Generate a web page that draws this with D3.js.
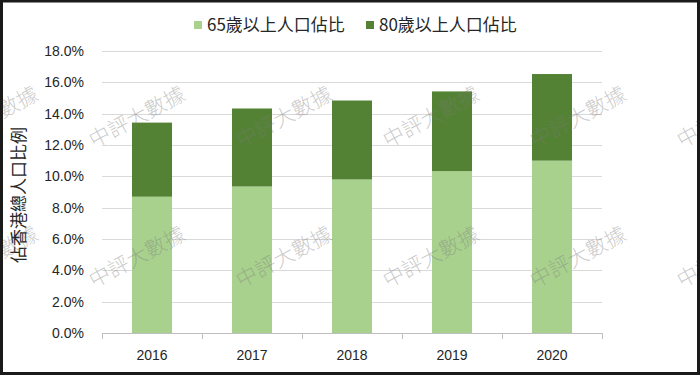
<!DOCTYPE html>
<html>
<head>
<meta charset="utf-8">
<script src="https://cdn.jsdelivr.net/npm/d3@7"></script>
<style>
  body { margin: 0; background: #fff; }
  svg { display: block; }
</style>
</head>
<body>
<script>
// data
var years = ["2016", "2017", "2018", "2019", "2020"];
var share65 = [8.7, 9.35, 9.8, 10.33, 11.0];
var share80 = [4.73, 4.98, 5.04, 5.09, 5.53];
var yTicks = [0, 2, 4, 6, 8, 10, 12, 14, 16, 18];
var seriesNames = ["65歲以上人口佔比", "80歲以上人口佔比"];
var colors = ["#a9d18e", "#548235"];

var width = 700, height = 375;
var margin = { left: 102, right: 98, top: 51, bottom: 42 };

var svg = d3.select("body")
    .append("svg")
    .attr("width", width)
    .attr("height", height);

svg.append("rect")
    .attr("width", width)
    .attr("height", height)
    .attr("fill", "#fff");

var x = d3.scaleBand()
    .domain(years)
    .range([margin.left, width - margin.right])
    .paddingInner(0.6)
    .paddingOuter(0.3);

var y = d3.scaleLinear()
    .domain([0, 18])
    .range([height - margin.bottom, margin.top]);

// gridlines
svg.append("g")
    .selectAll("line")
    .data(yTicks.slice(1))
    .enter()
    .append("line")
    .attr("x1", margin.left)
    .attr("x2", width - margin.right)
    .attr("y1", d => Math.round(y(d)) + 0.5)
    .attr("y2", d => Math.round(y(d)) + 0.5)
    .attr("stroke", "#d9d9d9");

// y axis labels
var yAxis = d3.axisLeft(y)
    .tickValues(yTicks)
    .tickFormat(d => d.toFixed(1) + "%")
    .tickSize(0)
    .tickPadding(18);

svg.append("g")
    .attr("transform", `translate(${margin.left},0)`)
    .call(yAxis)
    .call(g => g.select(".domain").remove())
    .selectAll("text")
    .attr("font-family", "Liberation Sans, Arial, sans-serif")
    .attr("font-size", 14)
    .attr("fill", "#262626");

// stacked bars
var rows = years.map((yr, i) => ({ year: yr, s0: share65[i], s1: share80[i] }));
var stack = d3.stack().keys(["s0", "s1"]);
var layers = stack(rows);

svg.append("g")
    .selectAll("g")
    .data(layers)
    .enter()
    .append("g")
    .attr("fill", (d, i) => colors[i])
    .selectAll("rect")
    .data(d => d)
    .enter()
    .append("rect")
    .attr("x", d => x(d.data.year))
    .attr("width", x.bandwidth())
    .attr("y", d => y(d[1]))
    .attr("height", d => y(d[0]) - y(d[1]));

// x axis
var band = x.step();
var xAxisG = svg.append("g")
    .attr("transform", `translate(0,${height - margin.bottom})`);

xAxisG.append("line")
    .attr("x1", margin.left)
    .attr("x2", width - margin.right)
    .attr("y1", 0.5)
    .attr("y2", 0.5)
    .attr("stroke", "#bfbfbf");

xAxisG.selectAll(".tick-mark")
    .data(d3.range(years.length + 1))
    .enter()
    .append("line")
    .attr("x1", i => margin.left + i * band + 0.5)
    .attr("x2", i => margin.left + i * band + 0.5)
    .attr("y1", 0)
    .attr("y2", 6)
    .attr("stroke", "#bfbfbf");

xAxisG.selectAll(".lbl")
    .data(years)
    .enter()
    .append("text")
    .attr("x", d => x(d) + x.bandwidth() / 2)
    .attr("y", 27)
    .attr("text-anchor", "middle")
    .attr("font-family", "Liberation Sans, Arial, sans-serif")
    .attr("font-size", 14)
    .attr("fill", "#262626")
    .text(d => d);

// y axis title
svg.append("text")
    .attr("transform", "translate(25,195) rotate(-90)")
    .attr("text-anchor", "middle")
    .attr("font-family", "Noto Sans CJK TC, sans-serif")
    .attr("font-size", 17)
    .attr("fill", "#262626")
    .text("佔香港總人口比例");

// legend
var legendX = [194, 366];
var legend = svg.append("g")
    .selectAll("g")
    .data(seriesNames)
    .enter()
    .append("g")
    .attr("transform", (d, i) => `translate(${legendX[i]},0)`);

legend.append("rect")
    .attr("y", 21)
    .attr("width", 8)
    .attr("height", 8)
    .attr("fill", (d, i) => colors[i]);

legend.append("text")
    .attr("x", 13)
    .attr("y", 31)
    .attr("font-family", "Noto Sans CJK TC, sans-serif")
    .attr("font-size", 17)
    .attr("fill", "#262626")
    .text(d => d);

// watermarks (cut at the edges like the original)
var wmCols = [-10, 137, 284, 431, 578, 725];
var wmRows = [117, 257];
var wm = [];
wmRows.forEach(r => wmCols.forEach(c => wm.push([c, r])));

svg.append("g")
    .selectAll("text")
    .data(wm)
    .enter()
    .append("text")
    .attr("transform", d => `translate(${d[0]},${d[1]}) rotate(-28)`)
    .attr("text-anchor", "middle")
    .attr("dy", "0.35em")
    .attr("font-family", "Noto Sans CJK TC, sans-serif")
    .attr("font-weight", 200)
    .attr("font-size", 21)
    .attr("fill", "#7a7a7a")
    .attr("fill-opacity", 0.4)
    .text("中評大數據");

// frame
svg.append("rect")
    .attr("x", 1.5)
    .attr("y", 1)
    .attr("width", width - 3)
    .attr("height", height - 2.5)
    .attr("fill", "none")
    .attr("stroke", "#1a1a1a")
    .attr("stroke-width", 3);
</script>
</body>
</html>
